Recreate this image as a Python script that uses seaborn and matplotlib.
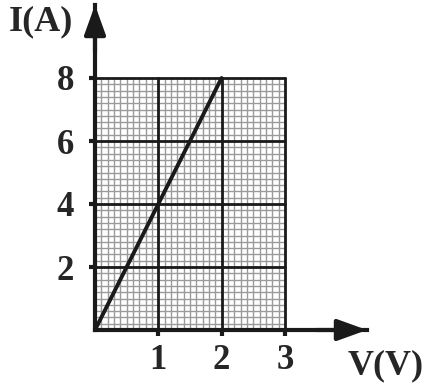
import matplotlib
matplotlib.use("Agg")
import matplotlib.pyplot as plt
import seaborn as sns
import numpy as np
import pandas as pd

# data
voltage = [0, 2]
current = [0, 8]
x_ticks = [1, 2, 3]
y_ticks = [2, 4, 6, 8]
x_label = "V(V)"
y_label = "I(A)"

sns.set_style("white")
plt.rcParams['font.family'] = ['Liberation Serif', 'DejaVu Serif']
plt.rcParams['font.weight'] = 'bold'

fig = plt.figure(figsize=(4.25, 3.92), dpi=100)
W, H = 425, 392
x0, y0 = 95, 330
xr, yt = 367, 5
ax = fig.add_axes([x0 / W, (H - y0) / H, (xr - x0) / W, (y0 - yt) / H])
xmax = (xr - x0) / 63.3
ymax = (y0 - yt) / 31.5
ax.set_xlim(0, xmax)
ax.set_ylim(0, ymax)

gx, gy = max(x_ticks), max(y_ticks)
# minor grid
for v in np.arange(0.1, gx, 0.1):
    ax.plot([v, v], [0, gy], color="#9a9a9a", lw=1.0, zorder=1)
for v in np.arange(0.2, gy, 0.2):
    ax.plot([0, gx], [v, v], color="#9a9a9a", lw=1.0, zorder=1)
# major grid
for v in x_ticks:
    ax.plot([v, v], [0, gy], color="#1a1a1a", lw=2.0, zorder=2)
for v in y_ticks:
    ax.plot([0, gx], [v, v], color="#1a1a1a", lw=2.0, zorder=2)

df = pd.DataFrame({"V": voltage, "I": current})
sns.lineplot(data=df, x="V", y="I", ax=ax, color="#1a1a1a", lw=2.8, zorder=3)

for s in ["top", "right"]:
    ax.spines[s].set_visible(False)
for s in ["left", "bottom"]:
    ax.spines[s].set_linewidth(3)
    ax.spines[s].set_color("#1a1a1a")
    ax.spines[s].set_zorder(4)

# arrows
astyle = "-|>,head_length=1.8,head_width=0.65"
ax.annotate("", xy=(xmax, 0), xytext=(xmax - 0.8, 0),
            arrowprops=dict(arrowstyle=astyle, color="#1a1a1a", lw=3,
                            shrinkA=0, shrinkB=0), annotation_clip=False)
ax.annotate("", xy=(0, ymax), xytext=(0, ymax - 1.5),
            arrowprops=dict(arrowstyle=astyle, color="#1a1a1a", lw=3,
                            shrinkA=0, shrinkB=0), annotation_clip=False)

ax.set_xticks(x_ticks)
ax.set_yticks(y_ticks)
ax.set_xticklabels([str(t) for t in x_ticks], fontsize=25, fontweight="bold")
ax.set_yticklabels([str(t) for t in y_ticks], fontsize=25, fontweight="bold")
ax.tick_params(axis="both", direction="out", length=4, width=3, color="#1a1a1a",
               bottom=True, left=True)
ax.tick_params(axis="x", pad=6)
ax.tick_params(axis="y", pad=11)
ax.set_xlabel("")
ax.set_ylabel("")

fig.text(9 / W, 1 - 22 / H, y_label, fontsize=26, fontweight="bold", va="center", ha="left")
fig.text(348 / W, 1 - 366 / H, x_label, fontsize=26, fontweight="bold", va="center", ha="left")

fig.savefig("out.png", dpi=100, facecolor="white")
